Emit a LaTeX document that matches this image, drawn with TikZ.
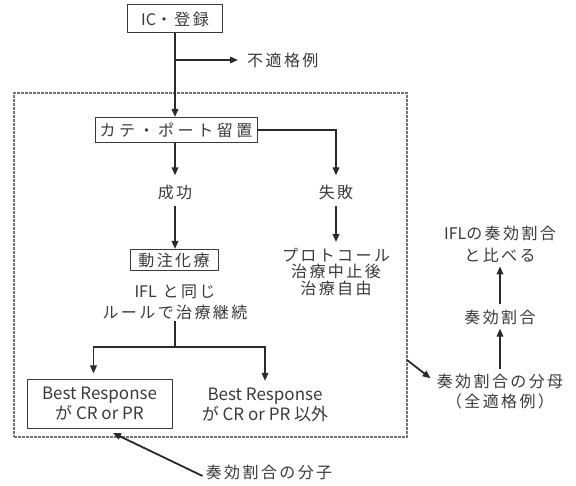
\documentclass[tikz,border=0pt]{standalone}
\usepackage{fontspec}
\setmainfont{Noto Sans CJK JP}
\newfontfamily\jsp{Noto Sans CJK JP}[LetterSpace=15]
\newfontfamily\jspw{Noto Sans CJK JP}[LetterSpace=22]
\newfontfamily\jpl{Noto Sans CJK JP}
\usetikzlibrary{arrows.meta}
\definecolor{ink}{HTML}{3A3A3A}
\definecolor{linec}{HTML}{2A2A2A}
\begin{document}
\begin{tikzpicture}[x=1pt,y=-1pt,
  txt/.style={font=\jsp\fontsize{16}{16.5}\selectfont, text=ink, inner sep=1pt, align=center},
  lat/.style={font=\fontsize{17}{20}\selectfont, text=ink, inner sep=1pt, align=center},
  box/.style={draw=ink, line width=1pt, inner sep=0pt},
  arr/.style={line width=1.8pt, draw=linec, -{Triangle[length=8pt,width=6.5pt]}},
  ln/.style={line width=1.8pt, draw=linec},
  frame/.style={draw=black!55, line width=1.4pt, dash pattern=on 3pt off 1pt, inner sep=0pt}]
\useasboundingbox (0,0) rectangle (576,486);
% frame
\node[frame, minimum width=393pt, minimum height=344pt] (fr) at (210.5,265) {};
% top
\node[txt, box, minimum width=95pt, minimum height=28pt] (ic) at (175,19) {{\jpl IC}・登録};
\node[txt, anchor=west] (futeki) at (246,60) {不適格例};
\coordinate (b1) at (175,60);
\node[txt, box, font=\jspw\fontsize{16}{16.5}\selectfont, minimum width=162pt, minimum height=25pt] (kate) at (176,130) {カテ・ポート留置};
\draw[ln] (ic.south) -- (b1);
\draw[arr] (b1) -- (kate.north -| b1);
\draw[arr, shorten >=8pt] (b1) -- (futeki.west);
% branches
\node[txt] (seiko) at (175,192) {成功};
\node[txt] (shippai) at (336,192) {失敗};
\draw[arr, shorten >=8pt] (kate.south -| seiko) -- (seiko.north);
\draw[arr, shorten >=8pt] (kate.east) -| (shippai.north);
\node[txt, box, minimum width=88pt, minimum height=21pt] (dochu) at (174,260) {動注化療};
\draw[arr, shorten <=5pt] (seiko.south) -- (dochu.north -| seiko);
\node[txt, font=\jsp\fontsize{16}{21}\selectfont] (rule) at (175,302) {{\jpl IFL} と同じ\\ルールで治療継続};
\node[txt] (proto) at (336,272) {プロトコール\\治療中止後\\治療自由};
\draw[arr, shorten <=5pt, shorten >=5pt] (shippai.south) -- (proto.north -| shippai);
% bottom split
\coordinate (j) at (175,347);
\node[lat, box, font=\fontsize{17}{20}\selectfont, minimum width=145pt, minimum height=48pt] (br1) at (99.5,404) {Best Response\\が CR or PR};
\node[lat] (br2) at (265,405) {Best Response\\が CR or PR 以外};
\draw[ln] (rule.south -| j) -- (j);
\draw[arr, shorten >=6pt] (j) -| ([xshift=-6pt]br1.north);
\draw[arr, shorten >=6pt] (j) -| (br2.north);
% numerator
\node[txt] (bunshi) at (269,472) {奏効割合の分子};
\coordinate (bt) at (113,433);
\draw[arr] ([xshift=-2pt,yshift=-4pt]bunshi.west) -- (bt);
% right column
\node[txt, font=\jsp\fontsize{16}{20}\selectfont] (bunbo) at (500,392) {奏効割合の分母\\（全適格例）};
\node[txt] (soukou) at (500,317) {奏効割合};
\node[txt, font=\jsp\fontsize{16}{22}\selectfont] (ifl) at (500,244) {{\jpl IFL}の奏効割合\\と比べる};
\coordinate (fe) at (407,360);
\draw[arr] (fe) -- ([xshift=-5pt,yshift=-5pt]bunbo.north west);
\draw[arr, shorten <=4pt, shorten >=3pt] (bunbo.north) -- (soukou.south);
\draw[arr, shorten <=4pt, shorten >=3pt] (soukou.north) -- (ifl.south);
\end{tikzpicture}
\end{document}
